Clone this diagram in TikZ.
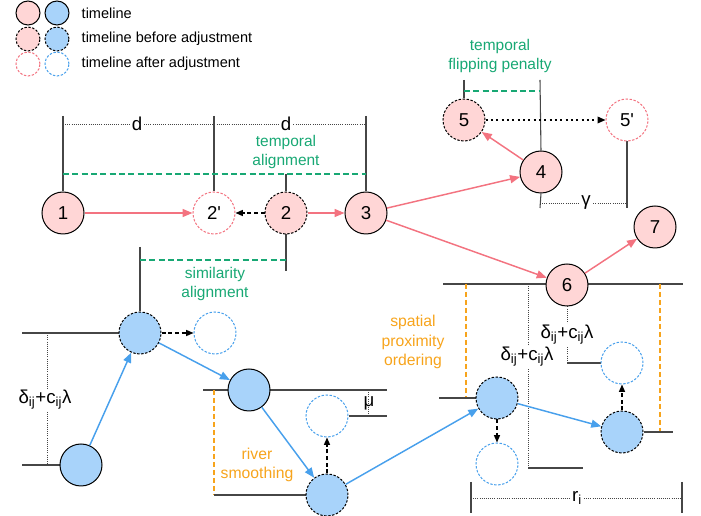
\documentclass[tikz,border=0pt]{standalone}
\usepackage{fontspec}
\setmainfont{Liberation Sans}
\usetikzlibrary{arrows.meta,backgrounds}
\definecolor{pinkfill}{RGB}{255,214,214}
\definecolor{pinkline}{RGB}{243,115,128}
\definecolor{bluefill}{RGB}{168,211,250}
\definecolor{blueline}{RGB}{72,160,236}
\definecolor{greenline}{RGB}{24,168,116}
\definecolor{orangeline}{RGB}{247,164,28}
\definecolor{tickgray}{RGB}{70,70,70}
\newcommand{\subij}{\textsubscript{ij}}
\newcommand{\prm}{\textquotesingle}
\tikzset{
  circ/.style={circle, line width=0.75pt, minimum size=31.5pt, inner sep=0pt,
               font=\fontsize{14}{14}\selectfont},
  smalldash/.style={dash pattern=on 1.8pt off 1.2pt},
  pnode/.style={circ, draw=black, fill=pinkfill},
  pbefore/.style={circ, draw=black, fill=pinkfill, smalldash},
  pafter/.style={circ, draw=pinkline, fill=white, smalldash},
  bnode/.style={circ, draw=black, fill=bluefill},
  bbefore/.style={circ, draw=black, fill=bluefill, smalldash},
  bafter/.style={circ, draw=blueline, fill=white, smalldash},
  legend/.style={minimum size=18pt},
  parrow/.style={draw=pinkline, line width=1.1pt, -{Triangle[length=7.5pt,width=6pt]}},
  barrow/.style={draw=blueline, line width=1.1pt, -{Triangle[length=7.5pt,width=6pt]}},
  darrow/.style={draw=black, line width=0.9pt, dash pattern=on 3pt off 2pt,
                 -{Triangle[length=5.5pt,width=4.5pt]}},
  dotarrow/.style={draw=black, line width=1pt, dash pattern=on 1.5pt off 2.5pt,
                   -{Triangle[length=6pt,width=5pt]}},
  tick/.style={draw=tickgray, line width=0.8pt},
  dimline/.style={draw=tickgray, line width=0.6pt, densely dotted},
  gdash/.style={draw=greenline, line width=1.8pt, dash pattern=on 4.5pt off 2.5pt},
  odash/.style={draw=orangeline, line width=1.8pt, dash pattern=on 4pt off 2pt},
  gtext/.style={text=greenline, align=center, font=\fontsize{11.6}{14.2}\selectfont},
  otext/.style={text=orangeline, align=center, font=\fontsize{11.8}{14.6}\selectfont},
  lab/.style={fill=white, inner sep=1.5pt, font=\fontsize{14}{14}\selectfont},
  dlab/.style={fill=white, inner sep=1pt, font=\fontsize{14}{15}\selectfont},
  legtext/.style={anchor=west, font=\fontsize{10.9}{12}\selectfont},
}
\begin{document}
\begin{tikzpicture}[x=0.75pt,y=-0.75pt]
\useasboundingbox (0,0) rectangle (701,516);

% legend
\node[pnode, legend] (lg1) at (28,13) {};
\node[bnode, legend] (lg2) at (57,13) {};
\node[pbefore, legend] (lg3) at (28,39) {};
\node[bbefore, legend] (lg4) at (57,39) {};
\node[pafter, legend] (lg5) at (28,64) {};
\node[bafter, legend] (lg6) at (57,64) {};
\node[legtext] (lt1) at (77,13) {timeline};
\node[legtext] (lt2) at (77,39) {timeline before adjustment};
\node[legtext] (lt3) at (77,64) {timeline after adjustment};

% event nodes
\node[pnode] (n1) at (63,213) {1};
\node[pafter] (n2p) at (214,213) {2\prm};
\node[pbefore] (n2) at (286,213) {2};
\node[pnode] (n3) at (366,213) {3};
\node[pnode] (n4) at (541,172) {4};
\node[pbefore] (n5) at (464,120) {5};
\node[pafter] (n5p) at (627,120) {5\prm};
\node[pnode] (n6) at (567,285) {6};
\node[pnode] (n7) at (655,227) {7};

% river nodes
\node[bnode] (nC) at (81,465) {};
\node[bbefore] (nD) at (140,333) {};
\node[bafter] (nDp) at (215,333) {};
\node[bnode] (nE) at (249,390) {};
\node[bbefore] (nF) at (327,495) {};
\node[bafter] (nFp) at (327,416) {};
\node[bbefore] (nA) at (497,398) {};
\node[bafter] (nAp) at (497,464) {};
\node[bbefore] (nB) at (622,432) {};
\node[bafter] (nBp) at (622,363) {};

\begin{pgfonlayer}{background}
  % distance d between timeline events
  \draw[tick] (63,116) -- (n1.north);
  \draw[tick] (214,116) -- (n2p.north);
  \draw[tick] (366,116) -- (n3.north);
  \draw[dimline] (63,124) -- (366,124);
  % temporal alignment
  \draw[gdash] (63,174) -- (366,174);
  \draw[tick] (286,174) -- (n2.north);
  % similarity alignment
  \draw[tick] (n2.south) -- (286,271);
  \draw[tick] (140,247) -- (nD.north);
  \draw[gdash] (140,260) -- (286,260);
  % temporal flipping penalty
  \draw[tick] (464,80) -- (n5.north);
  \draw[tick] (540,80) -- (n4.north);
  \draw[gdash] (464,91) -- (540,91);
  \draw[tick] (n4.south) -- (540,208);
  \draw[tick] (n5p.south) -- (627,208);
  \draw[dimline] (540,203) -- (627,203);
  % spatial proximity ordering around node 6
  \draw[tick] (443,284) -- (683,284);
  \draw[odash] (466,284) -- (466,397);
  \draw[odash] (660,284) -- (660,432);
  \draw[tick] (439,398) -- (nA);
  \draw[tick] (nB) -- (673,432);
  \draw[dimline] (528,284) -- (528,468);
  \draw[tick] (528,468) -- (583,468);
  \draw[dimline] (n6.south) -- (567,363);
  \draw[tick] (567,363) -- (nBp.west);
  % radius r_i
  \draw[tick] (471,482) -- (471,513);
  \draw[tick] (682,482) -- (682,513);
  \draw[dimline] (471,498) -- (682,498);
  % left river offsets
  \draw[tick] (22,333) -- (nD);
  \draw[tick] (22,465) -- (nC);
  \draw[dimline] (47,333) -- (47,465);
  % river smoothing
  \draw[tick] (203,390) -- (387,390);
  \draw[odash] (214,390) -- (214,495);
  \draw[tick] (214,495) -- (nF);
  \draw[tick] (nFp.east) -- (387,416);
  \draw[dimline] (368,390) -- (368,416);
\end{pgfonlayer}

% labels
\node[lab] (ld1) at (137,124) {d};
\node[lab] (ld2) at (286,124) {d};
\node[lab] (lg) at (586,203) {γ};
\node[lab] (lr) at (577,498) {r\textsubscript{i}};
\node[lab, fill=none, inner sep=0pt] (lmu) at (369,403) {μ};
\node[dlab] (ldl) at (45,400) {δ\subij+c\subij λ};
\node[dlab] (ldm) at (527,357) {δ\subij+c\subij λ};
\node[dlab] (ldr) at (567,335) {δ\subij+c\subij λ};
\node[gtext] (tta) at (286,152) {temporal\\alignment};
\node[gtext] (tsa) at (215,284) {similarity\\alignment};
\node[gtext] (tfp) at (500,56) {temporal\\flipping penalty};
\node[otext] (trs) at (257,465) {river\\smoothing};
\node[otext] (tsp) at (413,342) {spatial\\proximity\\ordering};

% timeline connectors
\draw[parrow] (n1) -- (n2p);
\draw[darrow] (n2) -- (n2p);
\draw[parrow] (n2) -- (n3);
\draw[parrow] (n3) -- (n4);
\draw[parrow] (n4) -- (n5);
\draw[dotarrow] (n5) -- (n5p);
\draw[parrow] (n3) -- (n6);
\draw[parrow] (n6) -- (n7);

% river connectors
\draw[barrow] (nC) -- (nD);
\draw[darrow] (nD) -- (nDp);
\draw[barrow] (nD) -- (nE);
\draw[barrow] (nE) -- (nF);
\draw[darrow] (nF) -- (nFp);
\draw[barrow] (nF) -- (nA);
\draw[darrow] (nA) -- (nAp);
\draw[barrow] (nA) -- (nB);
\draw[darrow] (nB) -- (nBp);
\end{tikzpicture}
\end{document}
